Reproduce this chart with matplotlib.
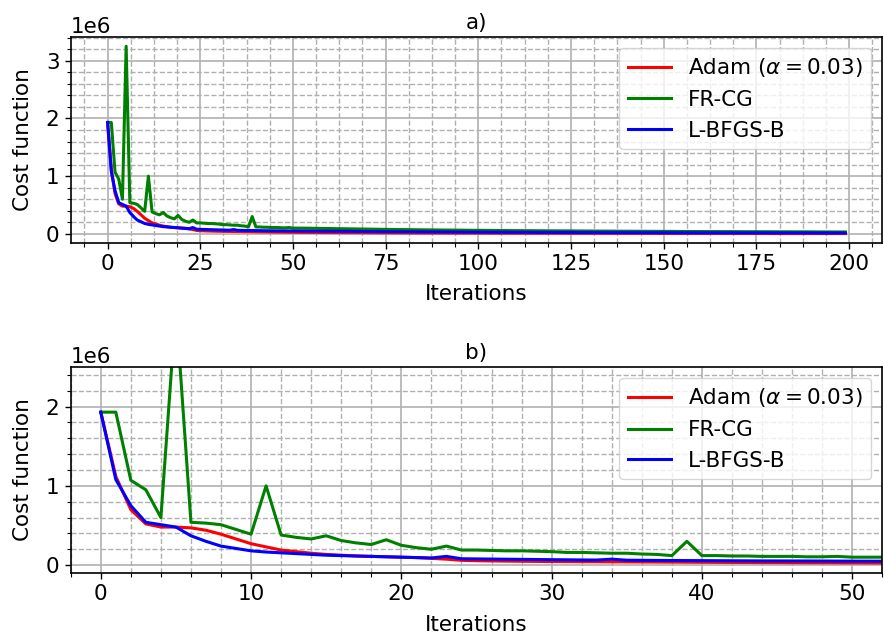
import numpy as np
import matplotlib
matplotlib.use("Agg")
import matplotlib.pyplot as plt
from matplotlib.ticker import AutoMinorLocator

# cost function values, in units of 1e6, iterations 0..199
fr_cg = [
    1.93, 1.93, 1.07, 0.95, 0.60, 3.25, 0.54, 0.53, 0.51, 0.45,
    0.39, 1.00, 0.38, 0.35, 0.33, 0.37, 0.31, 0.28, 0.26, 0.32,
    0.25, 0.22, 0.20, 0.24, 0.19, 0.19, 0.185, 0.18, 0.18, 0.175,
    0.17, 0.16, 0.16, 0.155, 0.15, 0.15, 0.14, 0.135, 0.12, 0.30,
    0.12, 0.12, 0.115, 0.115, 0.11, 0.11, 0.11, 0.105, 0.105, 0.11,
    0.10, 0.10, 0.10, 0.099, 0.098, 0.097, 0.096, 0.095, 0.094, 0.093,
    0.092, 0.091, 0.090, 0.089, 0.088, 0.087, 0.086, 0.085, 0.084, 0.083,
    0.082, 0.081, 0.080, 0.079, 0.078, 0.078, 0.077, 0.076, 0.075, 0.075,
    0.074, 0.073, 0.072, 0.072, 0.071, 0.070, 0.070, 0.069, 0.068, 0.068,
    0.067, 0.066, 0.066, 0.065, 0.065, 0.064, 0.063, 0.063, 0.062, 0.062,
    0.061, 0.061, 0.060, 0.060, 0.059, 0.059, 0.058, 0.058, 0.057, 0.057,
    0.056, 0.056, 0.056, 0.055, 0.055, 0.054, 0.054, 0.054, 0.053, 0.053,
    0.052, 0.052, 0.052, 0.051, 0.051, 0.051, 0.050, 0.050, 0.050, 0.049,
    0.049, 0.049, 0.048, 0.048, 0.048, 0.047, 0.047, 0.047, 0.046, 0.046,
    0.046, 0.046, 0.045, 0.045, 0.045, 0.044, 0.044, 0.044, 0.044, 0.043,
    0.043, 0.043, 0.043, 0.042, 0.042, 0.042, 0.042, 0.041, 0.041, 0.041,
    0.041, 0.040, 0.040, 0.040, 0.040, 0.040, 0.039, 0.039, 0.039, 0.039,
    0.038, 0.038, 0.038, 0.038, 0.038, 0.037, 0.037, 0.037, 0.037, 0.037,
    0.036, 0.036, 0.036, 0.036, 0.036, 0.036, 0.035, 0.035, 0.035, 0.035,
    0.035, 0.034, 0.034, 0.034, 0.034, 0.034, 0.034, 0.033, 0.033, 0.033,
]

lbfgsb = [
    1.93, 1.08, 0.75, 0.54, 0.51, 0.48, 0.37, 0.30, 0.24, 0.21,
    0.18, 0.165, 0.155, 0.145, 0.135, 0.125, 0.12, 0.115, 0.11, 0.105,
    0.10, 0.095, 0.09, 0.11, 0.08, 0.078, 0.076, 0.074, 0.072, 0.070,
    0.068, 0.066, 0.065, 0.064, 0.075, 0.062, 0.060, 0.059, 0.058, 0.057,
    0.056, 0.055, 0.055, 0.054, 0.053, 0.053, 0.052, 0.052, 0.051, 0.051,
    0.050, 0.050, 0.049, 0.049, 0.048, 0.048, 0.047, 0.047, 0.046, 0.046,
    0.045, 0.045, 0.044, 0.044, 0.043, 0.043, 0.042, 0.042, 0.041, 0.041,
    0.040, 0.040, 0.039, 0.039, 0.038, 0.038, 0.038, 0.037, 0.037, 0.036,
    0.036, 0.036, 0.035, 0.035, 0.035, 0.034, 0.034, 0.034, 0.033, 0.033,
    0.033, 0.032, 0.032, 0.032, 0.031, 0.031, 0.031, 0.031, 0.030, 0.030,
    0.030, 0.030, 0.029, 0.029, 0.029, 0.029, 0.028, 0.028, 0.028, 0.028,
    0.027, 0.027, 0.027, 0.027, 0.027, 0.026, 0.026, 0.026, 0.026, 0.026,
    0.025, 0.025, 0.025, 0.025, 0.025, 0.025, 0.024, 0.024, 0.024, 0.024,
    0.024, 0.024, 0.023, 0.023, 0.023, 0.023, 0.023, 0.023, 0.022, 0.022,
    0.022, 0.022, 0.022, 0.022, 0.022, 0.021, 0.021, 0.021, 0.021, 0.021,
    0.021, 0.021, 0.020, 0.020, 0.020, 0.020, 0.020, 0.020, 0.020, 0.020,
    0.019, 0.019, 0.019, 0.019, 0.019, 0.019, 0.019, 0.019, 0.019, 0.018,
    0.018, 0.018, 0.018, 0.018, 0.018, 0.018, 0.018, 0.018, 0.018, 0.017,
    0.017, 0.017, 0.017, 0.017, 0.017, 0.017, 0.017, 0.017, 0.017, 0.017,
    0.016, 0.016, 0.016, 0.016, 0.016, 0.016, 0.016, 0.016, 0.016, 0.016,
]

adam = [
    1.93, 1.12, 0.70, 0.52, 0.48, 0.48, 0.47, 0.44, 0.39, 0.33,
    0.27, 0.23, 0.19, 0.17, 0.15, 0.135, 0.125, 0.115, 0.11, 0.105,
    0.10, 0.095, 0.085, 0.075, 0.060, 0.055, 0.052, 0.050, 0.048, 0.046,
    0.045, 0.044, 0.043, 0.042, 0.041, 0.040, 0.039, 0.038, 0.037, 0.036,
    0.035, 0.034, 0.033, 0.033, 0.032, 0.031, 0.030, 0.030, 0.029, 0.028,
    0.028, 0.027, 0.026, 0.026, 0.025, 0.025, 0.024, 0.024, 0.023, 0.023,
    0.022, 0.022, 0.021, 0.021, 0.021, 0.020, 0.020, 0.020, 0.019, 0.019,
    0.019, 0.018, 0.018, 0.018, 0.017, 0.017, 0.017, 0.017, 0.016, 0.016,
    0.016, 0.016, 0.015, 0.015, 0.015, 0.015, 0.015, 0.014, 0.014, 0.014,
    0.014, 0.014, 0.013, 0.013, 0.013, 0.013, 0.013, 0.013, 0.012, 0.012,
    0.012, 0.012, 0.012, 0.012, 0.012, 0.011, 0.011, 0.011, 0.011, 0.011,
    0.011, 0.011, 0.011, 0.010, 0.010, 0.010, 0.010, 0.010, 0.010, 0.010,
    0.010, 0.010, 0.010, 0.009, 0.009, 0.009, 0.009, 0.009, 0.009, 0.009,
    0.009, 0.009, 0.009, 0.009, 0.009, 0.008, 0.008, 0.008, 0.008, 0.008,
    0.008, 0.008, 0.008, 0.008, 0.008, 0.008, 0.008, 0.008, 0.007, 0.007,
    0.007, 0.007, 0.007, 0.007, 0.007, 0.007, 0.007, 0.007, 0.007, 0.007,
    0.007, 0.007, 0.006, 0.006, 0.006, 0.006, 0.006, 0.006, 0.006, 0.006,
    0.006, 0.006, 0.006, 0.006, 0.006, 0.006, 0.006, 0.006, 0.006, 0.005,
    0.005, 0.005, 0.005, 0.005, 0.005, 0.005, 0.005, 0.005, 0.005, 0.005,
    0.005, 0.005, 0.005, 0.005, 0.005, 0.005, 0.005, 0.005, 0.005, 0.005,
]

iters = np.arange(len(adam))
SCALE = 1e6

plt.rcParams['font.size'] = 15.5
plt.rcParams['xtick.major.size'] = 4.5
plt.rcParams['ytick.major.size'] = 4.5
plt.rcParams['xtick.minor.size'] = 2.6
plt.rcParams['ytick.minor.size'] = 2.6
plt.rcParams['xtick.major.width'] = 1.0
plt.rcParams['ytick.major.width'] = 1.0
plt.rcParams['xtick.minor.width'] = 0.8
plt.rcParams['ytick.minor.width'] = 0.8

fig = plt.figure(figsize=(8.84, 6.36), dpi=100)
ax1 = fig.add_axes([0.080, 0.618, 0.918, 0.324])
ax2 = fig.add_axes([0.080, 0.099, 0.918, 0.324])

for ax in (ax1, ax2):
    ax.plot(iters, np.array(adam) * SCALE, color='red', lw=2.2, label=r'Adam ($\alpha = 0.03$)')
    ax.plot(iters, np.array(fr_cg) * SCALE, color='green', lw=2.2, label='FR-CG')
    ax.plot(iters, np.array(lbfgsb) * SCALE, color='blue', lw=2.2, label='L-BFGS-B')
    ax.set_xlabel('Iterations', labelpad=7.5)
    ax.set_ylabel('Cost function', labelpad=9)
    ax.yaxis.set_minor_locator(AutoMinorLocator(5))
    ax.grid(True, which='major', color='#b0b0b0', lw=1.2)
    ax.grid(True, which='minor', color='#b0b0b0', lw=1.0, ls='--')
    ax.set_axisbelow(True)
    ax.legend(loc='upper right')
    for s in ax.spines.values():
        s.set_linewidth(1.2)

ax1.xaxis.set_minor_locator(AutoMinorLocator(4))
ax1.set_title('a)', fontsize=15.5)

ax2.set_xlim(-2, 52)
ax2.set_ylim(-0.1e6, 2.5e6)
ax2.xaxis.set_minor_locator(AutoMinorLocator(5))
ax2.set_title('b)', fontsize=15.5)

fig.savefig('out.png', dpi=100)
